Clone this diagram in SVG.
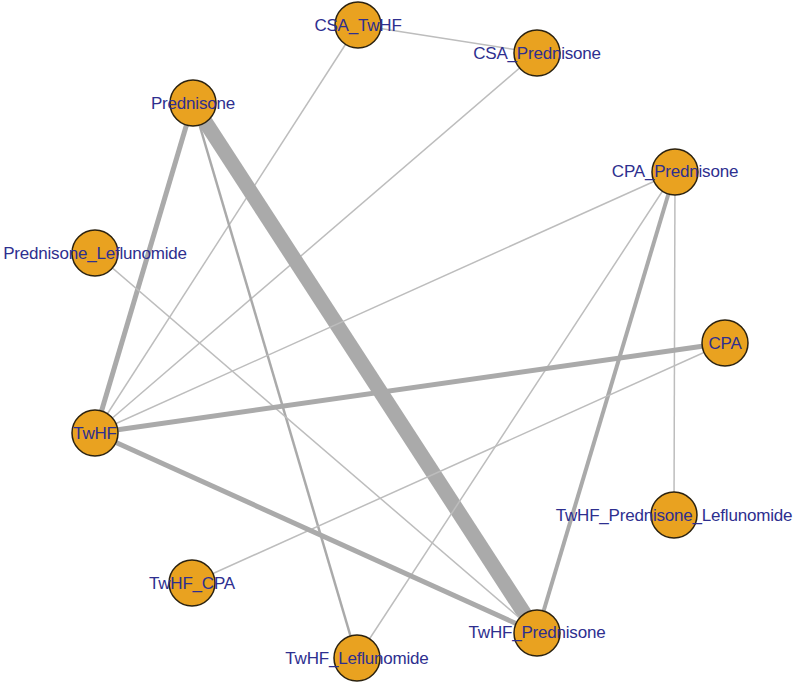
<svg xmlns="http://www.w3.org/2000/svg" width="800" height="687" viewBox="0 0 800 687">
<style>
.e{stroke:#aaaaaa;fill:none;stroke-linecap:butt}
.t{stroke-width:1.5;stroke:#bdbdbd}
.n circle{fill:#E9A220;stroke:#2b2210;stroke-width:1.5}
.n text{font-family:"Liberation Sans",Arial,sans-serif;font-size:17px;fill:#2e2f8f;text-anchor:middle;letter-spacing:-0.2px}
</style>
<rect width="800" height="687" fill="#ffffff"/>
<g id="edges">
<line class="e t" x1="358" y1="25" x2="537" y2="53"/>
<line class="e t" x1="358" y1="25" x2="95" y2="433"/>
<line class="e t" x1="537" y1="53" x2="95" y2="433"/>
<line class="e" stroke-width="5" x1="193" y1="103" x2="95" y2="433"/>
<line class="e" stroke-width="15" x1="193" y1="103" x2="537" y2="633"/>
<line class="e" stroke-width="2.5" x1="193" y1="103" x2="357" y2="658"/>
<line class="e t" x1="675" y1="172" x2="95" y2="433"/>
<line class="e" stroke-width="4" x1="675" y1="172" x2="537" y2="633"/>
<line class="e t" x1="675" y1="172" x2="674" y2="515"/>
<line class="e t" x1="675" y1="172" x2="357" y2="658"/>
<line class="e t" x1="95" y1="253" x2="537" y2="633"/>
<line class="e" stroke-width="5" x1="725" y1="343" x2="95" y2="433"/>
<line class="e t" x1="725" y1="343" x2="192" y2="583"/>
<line class="e" stroke-width="5" x1="95" y1="433" x2="537" y2="633"/>
</g>
<g id="CSA_TwHF" class="n"><circle cx="358" cy="25" r="23"/><text x="358" y="31">CSA_TwHF</text></g>
<g id="CSA_Prednisone" class="n"><circle cx="537" cy="53" r="23"/><text x="537" y="59">CSA_Prednisone</text></g>
<g id="Prednisone" class="n"><circle cx="193" cy="103" r="23"/><text x="193" y="109">Prednisone</text></g>
<g id="CPA_Prednisone" class="n"><circle cx="675" cy="172" r="23"/><text x="675" y="177">CPA_Prednisone</text></g>
<g id="Prednisone_Leflunomide" class="n"><circle cx="95" cy="253" r="23"/><text x="95" y="259">Prednisone_Leflunomide</text></g>
<g id="CPA" class="n"><circle cx="725" cy="343" r="23"/><text x="725" y="349">CPA</text></g>
<g id="TwHF" class="n"><circle cx="95" cy="433" r="23"/><text x="95" y="439">TwHF</text></g>
<g id="TwHF_Prednisone_Leflunomide" class="n"><circle cx="674" cy="515" r="23"/><text x="674" y="521">TwHF_Prednisone_Leflunomide</text></g>
<g id="TwHF_CPA" class="n"><circle cx="192" cy="583" r="23"/><text x="192" y="589">TwHF_CPA</text></g>
<g id="TwHF_Prednisone" class="n"><circle cx="537" cy="633" r="23"/><text x="537" y="638">TwHF_Prednisone</text></g>
<g id="TwHF_Leflunomide" class="n"><circle cx="357" cy="658" r="23"/><text x="357" y="664">TwHF_Leflunomide</text></g>
</svg>
